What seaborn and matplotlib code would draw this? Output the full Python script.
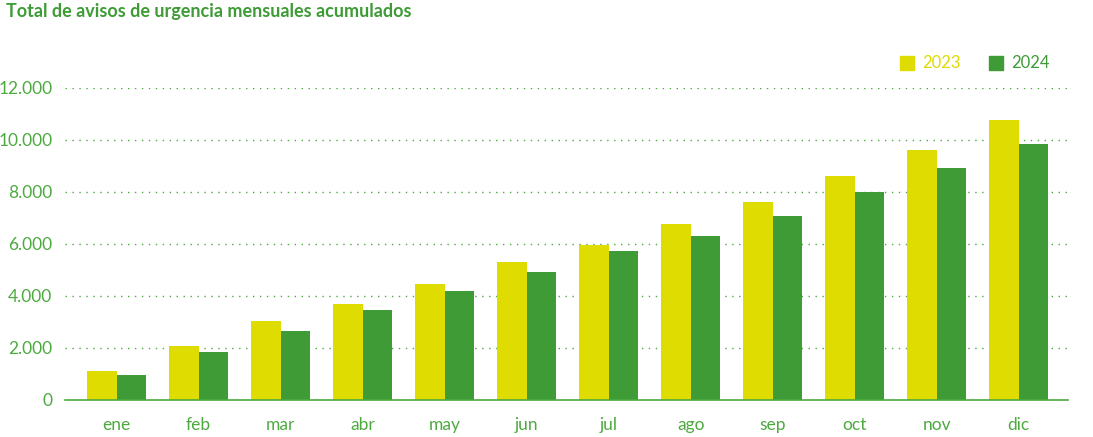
import pandas as pd
import matplotlib.pyplot as plt
import seaborn as sns
from matplotlib.ticker import FuncFormatter

months = ['ene', 'feb', 'mar', 'abr', 'may', 'jun', 'jul', 'ago', 'sep', 'oct', 'nov', 'dic']
avisos_2023 = [1110, 2070, 3040, 3690, 4460, 5310, 5960, 6770, 7610, 8620, 9620, 10770]
avisos_2024 = [960, 1850, 2650, 3460, 4190, 4930, 5730, 6300, 7070, 8010, 8930, 9860]
years = ['2023', '2024']

c23 = '#DEDC00'
c24 = '#3E9B35'
txt = '#4CAA3F'

df = pd.DataFrame({
    'mes': months * 2,
    'avisos': avisos_2023 + avisos_2024,
    'anio': [years[0]] * 12 + [years[1]] * 12,
})

sns.set_style('white')
plt.rcParams['font.family'] = ['Lato', 'DejaVu Sans']

fig = plt.figure(figsize=(10.93, 4.37), dpi=100)
ax = fig.add_axes([65 / 1093, 37 / 437, 1003 / 1093, 312 / 437])

sns.barplot(data=df, x='mes', y='avisos', hue='anio', palette=[c23, c24],
            width=0.72, saturation=1, linewidth=0, ax=ax, legend=False)

ax.set_ylim(0, 12000)
ax.set_xlim(-0.63, 11.6)
ax.set_yticks(range(0, 12001, 2000))
ax.yaxis.set_major_formatter(FuncFormatter(lambda v, p: f'{int(v):,}'.replace(',', '.')))
for y in range(2000, 12001, 2000):
    ax.axhline(y, color=txt, lw=1, ls=(0, (1, 4)), zorder=0)

for s in ['top', 'right', 'left']:
    ax.spines[s].set_visible(False)
ax.spines['bottom'].set_color(txt)
ax.spines['bottom'].set_linewidth(1.2)
ax.tick_params(axis='y', length=0, pad=9, labelsize=12.5, labelcolor=txt)
ax.tick_params(axis='x', length=6, width=1, color='#8CC782', pad=6, labelsize=12.5, labelcolor=txt)
ax.set_xlabel('')
ax.set_ylabel('')

fig.text(6 / 1093, 1 - 12 / 437, 'Total de avisos de urgencia mensuales acumulados',
         color='#3E9B35', fontsize=13, fontweight='bold', va='center')

# legend drawn by hand
for x0, lab, col in [(900, years[0], c23), (989, years[1], c24)]:
    fig.patches.append(plt.Rectangle((x0 / 1093, 1 - 70 / 437), 14 / 1093, 14 / 437,
                                     transform=fig.transFigure, color=col))
    fig.text((x0 + 22) / 1093, 1 - 63 / 437, lab, color=col, fontsize=12, va='center')

fig.savefig('out.png', dpi=100)
